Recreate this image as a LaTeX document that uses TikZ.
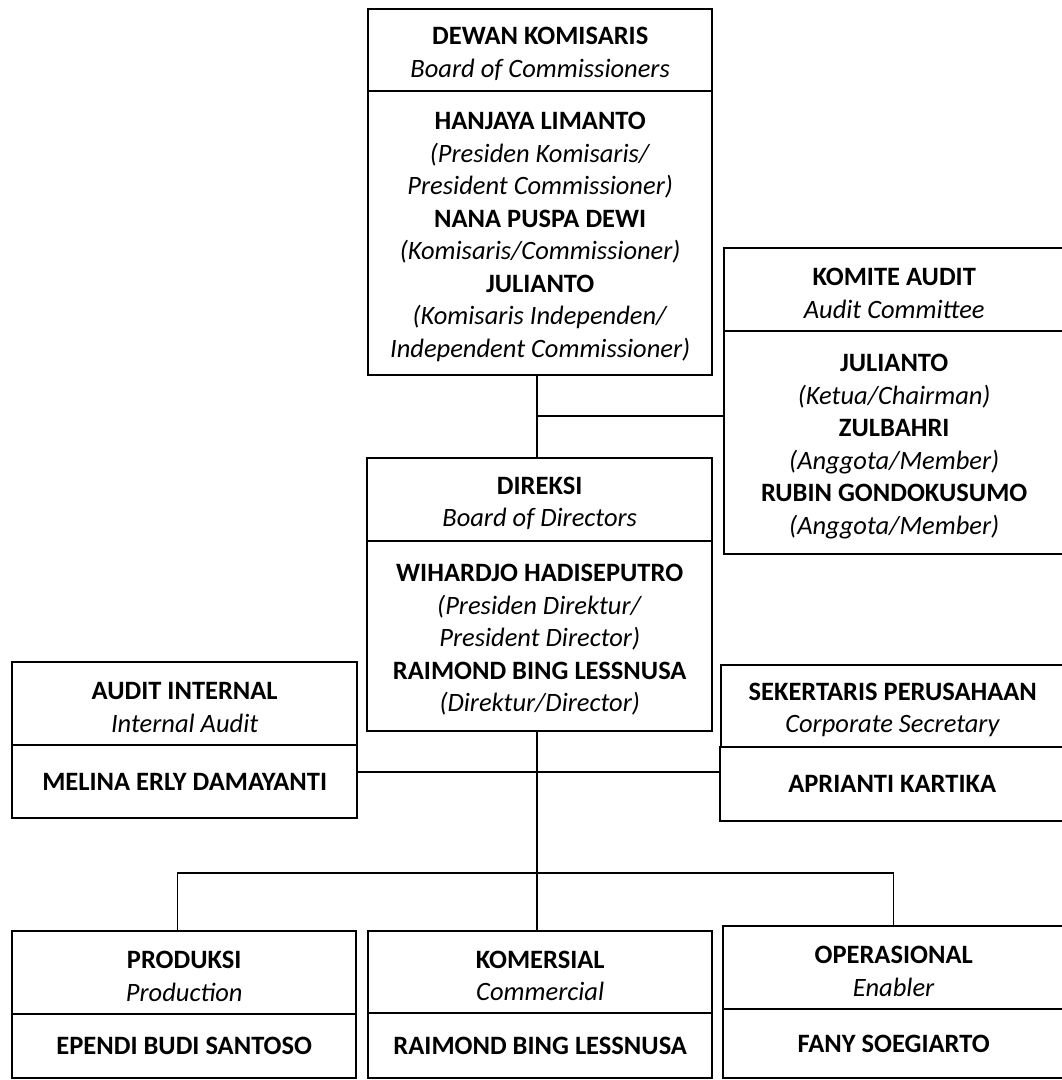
\documentclass[tikz,border=0pt]{standalone}
\usepackage{fontspec}
\setmainfont{Carlito}
\newcommand\firststrut{\rule{0pt}{25pt}}
\begin{document}
\begin{tikzpicture}[x=1pt,y=-1pt,
  part/.style={draw=black, line width=2.4pt, rectangle, anchor=north west, align=center,
    inner sep=0pt, font=\fontsize{26.5}{32.5}\selectfont},
  conn/.style={draw=black, line width=1.2pt}]
\useasboundingbox (0,0) rectangle (1062,1080);
\fill[white] (0,0) rectangle (1062,1080);
% Dewan Komisaris
\node[part, minimum width=344pt, minimum height=82pt] (dkh) at (367,8)
  {\firststrut\textbf{DEWAN KOMISARIS}\\\textit{Board of Commissioners}};
\node[part, minimum width=344pt, minimum height=284pt] (dkb) at (367,90)
  {\firststrut\textbf{HANJAYA LIMANTO}\\\textit{(Presiden Komisaris/}\\\textit{President Commissioner)}\\
   \textbf{NANA PUSPA DEWI}\\\textit{(Komisaris/Commissioner)}\\\textbf{JULIANTO}\\
   \textit{(Komisaris Independen/}\\\textit{Independent Commissioner)}};
% Komite Audit
\node[part, minimum width=340pt, minimum height=83pt] (kah) at (723,247)
  {\firststrut\textbf{KOMITE AUDIT}\\\textit{Audit Committee}};
\node[part, minimum width=340pt, minimum height=223pt] (kab) at (723,330)
  {\firststrut\textbf{JULIANTO}\\\textit{(Ketua/Chairman)}\\\textbf{ZULBAHRI}\\\textit{(Anggota/Member)}\\
   \textbf{RUBIN GONDOKUSUMO}\\\textit{(Anggota/Member)}};
% Direksi
\node[part, minimum width=345pt, minimum height=83pt] (dih) at (366,457)
  {\firststrut\textbf{DIREKSI}\\\textit{Board of Directors}};
\node[part, minimum width=345pt, minimum height=190pt] (dib) at (366,540)
  {\firststrut\textbf{WIHARDJO HADISEPUTRO}\\\textit{(Presiden Direktur/}\\\textit{President Director)}\\
   \textbf{RAIMOND BING LESSNUSA}\\\textit{(Direktur/Director)}};
% Audit Internal
\node[part, minimum width=345pt, minimum height=83pt] (aih) at (11,661)
  {\firststrut\textbf{AUDIT INTERNAL}\\\textit{Internal Audit}};
\node[part, minimum width=345pt, minimum height=73pt] (aib) at (11,744)
  {\textbf{MELINA ERLY DAMAYANTI}};
% Sekertaris Perusahaan
\node[part, minimum width=343pt, minimum height=82pt] (sch) at (720,664)
  {\firststrut\textbf{SEKERTARIS PERUSAHAAN}\\\textit{Corporate Secretary}};
\node[part, minimum width=344pt, minimum height=74pt] (scb) at (719,746)
  {\textbf{APRIANTI KARTIKA}};
% Produksi
\node[part, minimum width=344pt, minimum height=83pt] (prh) at (11,930)
  {\firststrut\textbf{PRODUKSI}\\\textit{Production}};
\node[part, minimum width=344pt, minimum height=64pt] (prb) at (11,1013)
  {\textbf{EPENDI BUDI SANTOSO}};
% Komersial
\node[part, minimum width=344pt, minimum height=82pt] (kmh) at (367,930)
  {\firststrut\textbf{KOMERSIAL}\\\textit{Commercial}};
\node[part, minimum width=344pt, minimum height=65pt] (kmb) at (367,1012)
  {\textbf{RAIMOND BING LESSNUSA}};
% Operasional
\node[part, minimum width=341pt, minimum height=83pt] (oph) at (722,925)
  {\firststrut\textbf{OPERASIONAL}\\\textit{Enabler}};
\node[part, minimum width=341pt, minimum height=69pt] (opb) at (722,1008)
  {\textbf{FANY SOEGIARTO}};
% connectors
\coordinate (j1) at (537,416);
\coordinate (j2) at (537,772);
\coordinate (j3) at (537,873);
\draw[conn] (dkb.south -| j1) -- (dih.north -| j1);
\draw[conn] (j1) -- (kab.west |- j1);
\draw[conn] (dib.south -| j1) -- (kmh.north -| j1);
\draw[conn] (aib.east |- j2) -- (scb.west |- j2);
\draw[conn] ([xshift=-7pt]prh.north) |- (oph.north |- j3) -- (oph.north);
\end{tikzpicture}
\end{document}
